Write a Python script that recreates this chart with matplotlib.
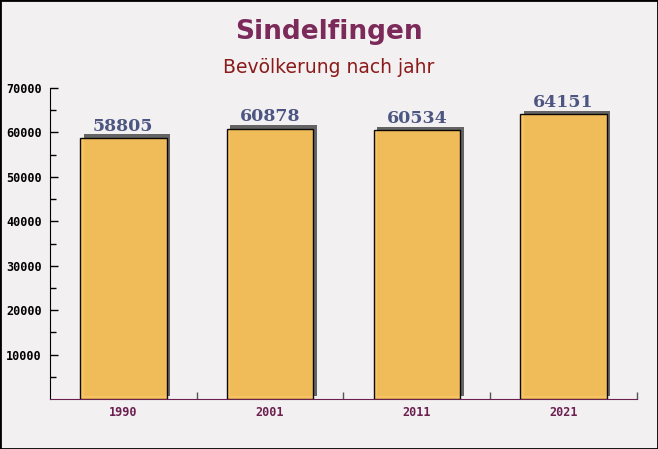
import matplotlib.pyplot as plt
import matplotlib.patheffects as pe
import numpy as np

# Daten
years = ['1990', '2001', '2011', '2021']
population = [58805, 60878, 60534, 64151]
y_ticks = [10000, 20000, 30000, 40000, 50000, 60000, 70000]

bg = '#f3f0f1'
fig = plt.figure(figsize=(6.58, 4.49), dpi=100, facecolor=bg)
ax = fig.add_axes([0.076, 0.111, 0.892, 0.693])
ax.set_facecolor('none')

x = np.arange(len(years))
bars = ax.bar(x, population, width=0.59, color='#f9c25a', alpha=0.95,
              edgecolor='black', linewidth=1.0, zorder=3)
for b in bars:
    b.set_path_effects([pe.SimplePatchShadow(offset=(2.5, 2.5), shadow_rgbFace='#555555', alpha=0.9),
                        pe.Normal()])

# Werte über den Balken
for xi, v in zip(x, population):
    ax.text(xi, v + 700, str(v), ha='center', va='bottom', fontsize=12.5,
            fontweight='bold', family='DejaVu Serif', color='#4d5682', zorder=4)

ax.set_xlim(-0.5, len(years) - 0.5)
ax.set_ylim(0, 70000)
ax.set_yticks(y_ticks)
ax.set_yticks(np.arange(5000, 70000, 10000), minor=True)
ax.set_xticks(x)
ax.set_xticklabels(years)
ax.set_xticks(np.arange(0.5, len(years), 1.0), minor=True)

ax.tick_params(axis='y', direction='in', length=6, width=1, labelsize=8.5, colors='black', pad=6)
ax.tick_params(axis='y', which='minor', direction='in', length=4, width=1)
ax.tick_params(axis='x', which='major', length=0, labelsize=8.5, labelcolor='#6b2050', pad=5)
ax.tick_params(axis='x', which='minor', direction='in', length=5, width=1, color='#555555')
for lbl in ax.get_xticklabels() + ax.get_yticklabels():
    lbl.set_family('DejaVu Sans Mono')
    lbl.set_fontweight('bold')

for s in ['top', 'right']:
    ax.spines[s].set_visible(False)
ax.spines['left'].set_color('black')
ax.spines['bottom'].set_color('#6b2050')

fig.text(0.5, 0.929, 'Sindelfingen', ha='center', va='center', fontsize=19,
         fontweight='bold', color='#7b2a5a')
fig.text(0.5, 0.849, 'Bevölkerung nach jahr', ha='center', va='center', fontsize=13.5,
         color='#8b1a1a')

# Rahmen
fig.patches.append(plt.Rectangle((0, 0), 1, 1, transform=fig.transFigure, fill=False,
                                 edgecolor='black', linewidth=2))

fig.savefig('out.png', dpi=100, facecolor=bg)
